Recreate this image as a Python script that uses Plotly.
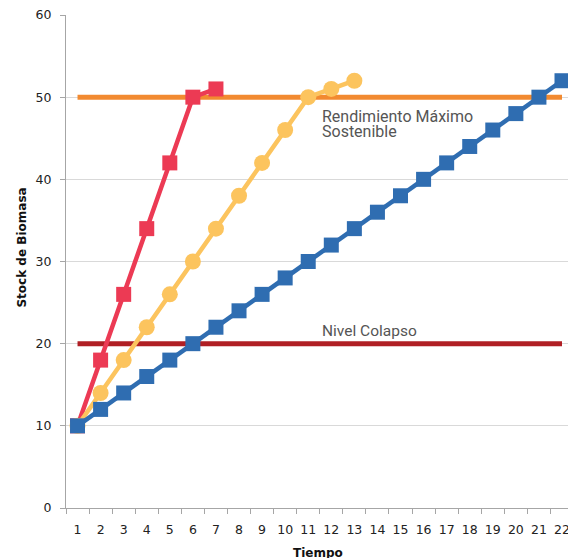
import plotly.graph_objects as go

# Time steps and biomass stock for each harvesting scenario
tiempo = list(range(1, 23))
escenario_rapido = [10, 18, 26, 34, 42, 50, 51]
escenario_medio = [10, 14, 18, 22, 26, 30, 34, 38, 42, 46, 50, 51, 52]
escenario_lento = [10, 12, 14, 16, 18, 20, 22, 24, 26, 28, 30, 32, 34, 36, 38,
                   40, 42, 44, 46, 48, 50, 52]

# Reference levels
rms_nivel = 50
colapso_nivel = 20

y_ticks = [0, 10, 20, 30, 40, 50, 60]

fig = go.Figure()

# Horizontal reference lines
fig.add_trace(go.Scatter(x=tiempo, y=[rms_nivel] * len(tiempo), mode="lines",
                         line=dict(color="#F28A30", width=5), hoverinfo="skip"))
fig.add_trace(go.Scatter(x=tiempo, y=[colapso_nivel] * len(tiempo), mode="lines",
                         line=dict(color="#B01F24", width=5), hoverinfo="skip"))

# Biomass trajectories
fig.add_trace(go.Scatter(x=tiempo[:len(escenario_rapido)], y=escenario_rapido,
                         mode="lines+markers",
                         line=dict(color="#EC3A54", width=4.5),
                         marker=dict(symbol="square", size=15, color="#EC3A54")))
fig.add_trace(go.Scatter(x=tiempo[:len(escenario_medio)], y=escenario_medio,
                         mode="lines+markers",
                         line=dict(color="#FCC45E", width=4.5),
                         marker=dict(symbol="circle", size=16, color="#FCC45E")))
fig.add_trace(go.Scatter(x=tiempo[:len(escenario_lento)], y=escenario_lento,
                         mode="lines+markers",
                         line=dict(color="#2F6DB1", width=4.5),
                         marker=dict(symbol="square", size=15, color="#2F6DB1")))

tick_font = dict(family="DejaVu Sans", size=12.5, color="#222222")

fig.update_xaxes(
    range=[0.5, 22.26],
    tickvals=tiempo,
    ticktext=[str(t) for t in tiempo],
    ticks="",
    showgrid=False,
    zeroline=False,
    showline=True,
    linecolor="#A6A6A6",
    linewidth=1,
    tickfont=tick_font,
    ticklabelstandoff=10,
    ticklabeloverflow="allow",
    minor=dict(tick0=0.5, dtick=1, ticks="outside", ticklen=5,
               tickcolor="#A6A6A6", showgrid=False),
    automargin=False,
)
fig.update_yaxes(
    range=[0, 60],
    tickvals=y_ticks,
    ticks="outside",
    ticklen=5,
    tickcolor="#A6A6A6",
    showgrid=True,
    gridcolor="#D9D9D9",
    gridwidth=1,
    zeroline=False,
    showline=True,
    linecolor="#A6A6A6",
    linewidth=1,
    tickfont=tick_font,
    ticklabelstandoff=6,
    automargin=False,
)

label_font = dict(family="Roboto", size=15.5, color="#555555")
label_x = 11.53
fig.add_annotation(x=label_x, y=rms_nivel, yshift=-19, xanchor="left", yanchor="middle",
                   text="Rendimiento Máximo", showarrow=False,
                   font=dict(label_font, size=16))
fig.add_annotation(x=label_x, y=rms_nivel, yshift=-34, xanchor="left", yanchor="middle",
                   text="Sostenible", showarrow=False, font=dict(label_font, size=16))
fig.add_annotation(x=label_x, y=colapso_nivel, yshift=13, xanchor="left", yanchor="middle",
                   text="Nivel Colapso", showarrow=False, font=label_font)

title_font = dict(family="DejaVu Sans", size=12, color="#111111")
fig.add_annotation(xref="paper", yref="paper", x=(318 - 66) / 502, y=0,
                   yshift=-36, xanchor="center", yanchor="top",
                   text="<b>Tiempo</b>", showarrow=False, font=title_font)
fig.add_annotation(xref="paper", yref="y", x=0, y=31.7, xshift=-44,
                   xanchor="center", yanchor="middle", textangle=-90,
                   text="<b>Stock de Biomasa</b>", showarrow=False, font=title_font)

fig.update_layout(
    width=568, height=558,
    margin=dict(l=66, r=0, t=15, b=50),
    paper_bgcolor="white", plot_bgcolor="white",
    showlegend=False,
)

fig.write_html("out.html")
